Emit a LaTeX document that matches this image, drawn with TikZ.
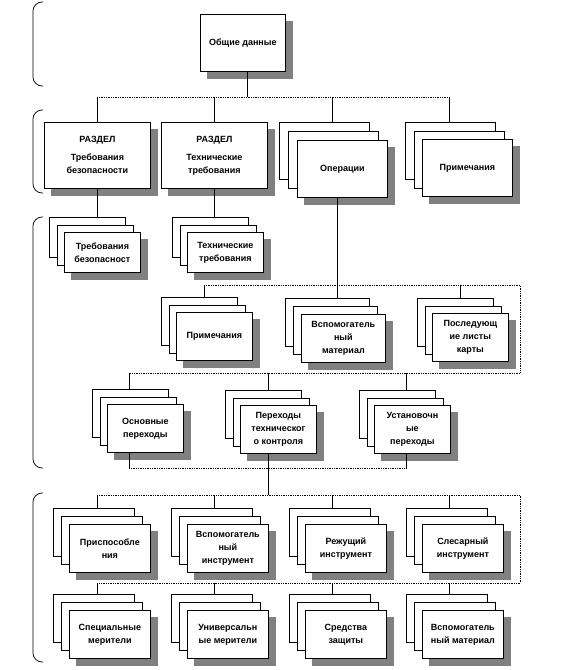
\documentclass[tikz,border=0pt]{standalone}
\usepackage{fontspec}
\setmainfont{Liberation Sans}
\usetikzlibrary{calc,backgrounds}
\definecolor{ShadowGray}{RGB}{128,128,128}
\tikzset{
  sheet/.style={draw=black,fill=white,line width=0.75pt,anchor=north west,
    inner sep=1pt,align=center,font=\bfseries\fontsize{9}{13}\selectfont},
  headbox/.style={minimum width=85pt,minimum height=57pt},
  secbox/.style={minimum width=106pt,minimum height=66pt},
  bigcard/.style={minimum width=90pt,minimum height=57pt},
  lowcard/.style={minimum width=76pt,minimum height=40pt},
  midcard/.style={minimum width=76pt,minimum height=48pt},
  widecard/.style={minimum width=84pt,minimum height=48pt},
  toolcard/.style={minimum width=81pt,minimum height=48pt},
  link/.style={line width=0.75pt},
  bus/.style={line width=0.75pt,densely dotted},
  brace/.style={line width=0.75pt,rounded corners=9pt}
}
\newcommand{\drop}[1]{%
  \fill[ShadowGray] ($(#1.south west)+(7,7)$) rectangle ($(#1.north east)+(7,7)$);
}
\newcommand{\deck}[5]{%
  \node[sheet,#4] (#1c) at (#2) {};
  \node[sheet,#4] (#1b) at ($(#2)+(#3,#3)$) {};
  \node[sheet,#4] (#1) at ($(#2)+2*(#3,#3)$) {#5};
}

\begin{document}
\begin{tikzpicture}[x=1pt,y=-1pt]
  \useasboundingbox (0,0) rectangle (588,670);

  \draw[brace] (43,2) -- (33,2) -- (33,86) -- (43,86);
  \draw[brace] (43,110) -- (33,110) -- (33,193) -- (43,193);
  \draw[brace] (43,217) -- (33,217) -- (33,468) -- (43,468);
  \draw[brace] (43,493) -- (33,493) -- (33,662) -- (43,662);

  \node[sheet,headbox] (gen) at (200,14) {Общие данные};
  \node[sheet,secbox] (sec1) at (44,122) {РАЗДЕЛ\\[5pt]Требования\\безопасности};
  \node[sheet,secbox] (sec2) at (161,122) {РАЗДЕЛ\\[5pt]Технические\\требования};
  \deck{ops}{279,122}{9}{bigcard}{Операции}
  \deck{notes}{405,122}{8.5}{bigcard}{Примечания}

  \deck{safe}{49,217}{7.5}{lowcard}{Требования\\безопасност}
  \deck{tech}{172,217}{7.5}{lowcard}{Технические\\требования}

  \deck{rem}{161,297}{7.5}{midcard}{Примечания}
  \deck{aux}{285,298}{8}{widecard}{Вспомогатель\\ный\\материал}
  \deck{next}{417,298}{7.5}{midcard}{Последующ\\ие листы\\карты}

  \deck{main}{92,389}{7.5}{midcard}{Основные\\переходы}
  \deck{insp}{225,390}{7.5}{midcard}{Переходы\\техническог\\о контроля}
  \deck{setup}{359,390}{7.5}{midcard}{Установочн\\ые\\переходы}

  \deck{fix}{53,508}{8}{toolcard}{Приспособле\\ния}
  \deck{auxt}{171,508}{8}{toolcard}{Вспомогатель\\ный\\инструмент}
  \deck{cut}{289,508}{8}{toolcard}{Режущий\\инструмент}
  \deck{fit}{406,508}{8}{toolcard}{Слесарный\\инструмент}
  \deck{spec}{53,594}{8}{toolcard}{Специальные\\мерители}
  \deck{univ}{171,594}{8}{toolcard}{Универсальн\\ые мерители}
  \deck{prot}{289,594}{8}{toolcard}{Средства\\защиты}
  \deck{auxm}{406,594}{8}{toolcard}{Вспомогатель\\ный материал}

  \begin{scope}[on background layer]
    \drop{gen} \drop{sec1} \drop{sec2} \drop{ops} \drop{notes}
    \drop{safe} \drop{tech} \drop{rem} \drop{aux} \drop{next}
    \drop{main} \drop{insp} \drop{setup}
    \drop{fix} \drop{auxt} \drop{cut} \drop{fit}
    \drop{spec} \drop{univ} \drop{prot} \drop{auxm}
  \end{scope}

  \coordinate (g0) at (247,97);
  \coordinate (g1) at (97,97);
  \coordinate (g2) at (214,97);
  \coordinate (g3) at (332,97);
  \coordinate (g4) at (449,97);
  \draw[link] (g0 |- gen.south) -- (g0);
  \draw[bus] (g1) -- (g4);
  \draw[link] (g1) -- (g1 |- sec1.north);
  \draw[link] (g2) -- (g2 |- sec2.north);
  \draw[link] (g3) -- (g3 |- opsc.north);
  \draw[link] (g4) -- (g4 |- notesc.north);

  \draw[link] (sec1.south) -- (sec1.south |- safec.north);
  \draw[link] (sec2.south) -- (sec2.south |- techc.north);

  \coordinate (r1) at (204,285);
  \coordinate (r2) at (337,285);
  \coordinate (r3) at (460,285);
  \coordinate (rc) at (520,285);
  \coordinate (rd) at (520,373);
  \coordinate (s1) at (129,373);
  \coordinate (s2) at (268,373);
  \coordinate (s3) at (406,373);
  \draw[bus] (r1) -- (rc) -- (rd) -- (s1);
  \draw[link] (r2 |- ops.south) -- (r2 |- auxc.north);
  \draw[link] (r1) -- (r1 |- remc.north);
  \draw[link] (r3) -- (r3 |- nextc.north);
  \draw[link] (s1) -- (s1 |- mainc.north);
  \draw[link] (s2) -- (s2 |- inspc.north);
  \draw[link] (s3) -- (s3 |- setupc.north);

  \coordinate (u1) at (129,468);
  \coordinate (u2) at (268,468);
  \coordinate (u3) at (406,468);
  \draw[link] (u1 |- main.south) -- (u1);
  \draw[link] (u2 |- insp.south) -- (u2);
  \draw[link] (u3 |- setup.south) -- (u3);
  \draw[bus] (u1) -- (u3);

  \coordinate (wj) at (268,495);
  \coordinate (w1) at (97,495);
  \coordinate (w2) at (214,495);
  \coordinate (w3) at (332,495);
  \coordinate (w4) at (449,495);
  \coordinate (wc) at (520,495);
  \coordinate (wd) at (520,583);
  \coordinate (z1) at (97,583);
  \coordinate (z2) at (214,583);
  \coordinate (z3) at (332,583);
  \coordinate (z4) at (449,583);
  \draw[link] (u2) -- (wj);
  \draw[bus] (w1) -- (wc) -- (wd) -- (z1);
  \draw[link] (w1) -- (w1 |- fixc.north);
  \draw[link] (w2) -- (w2 |- auxtc.north);
  \draw[link] (w3) -- (w3 |- cutc.north);
  \draw[link] (w4) -- (w4 |- fitc.north);
  \draw[link] (z1) -- (z1 |- specc.north);
  \draw[link] (z2) -- (z2 |- univc.north);
  \draw[link] (z3) -- (z3 |- protc.north);
  \draw[link] (z4) -- (z4 |- auxmc.north);
\end{tikzpicture}
\end{document}
